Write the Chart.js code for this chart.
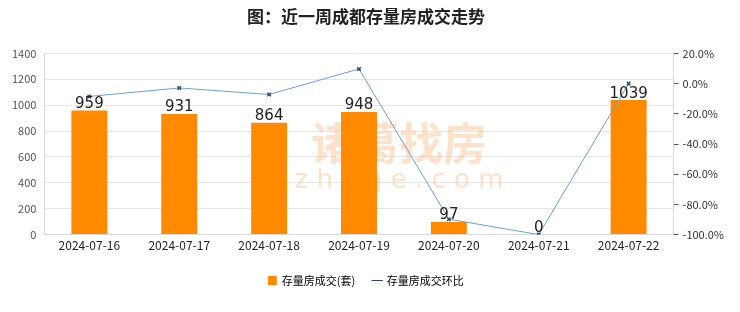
<!DOCTYPE html>
<html>
<head>
<meta charset="utf-8">
<script src="https://cdn.jsdelivr.net/npm/chart.js@4"></script>
<style>
  html, body { margin: 0; padding: 0; background: #fff; }
  #wrap { width: 740px; height: 312px; position: relative; }
</style>
</head>
<body>
<div id="wrap"><canvas id="chart" width="740" height="312"></canvas></div>
<script>
const dates = ['2024-07-16', '2024-07-17', '2024-07-18', '2024-07-19', '2024-07-20', '2024-07-21', '2024-07-22']
const deals = [959, 931, 864, 948, 97, 0, 1039]
const changePct = [-8.5, -2.9, -7.2, 9.7, -89.8, -100, 0]
const leftTicks = [0, 200, 400, 600, 800, 1000, 1200, 1400]
const rightTicks = [-100, -80, -60, -40, -20, 0, 20]

const fontFamily = "'Noto Sans CJK SC', 'DejaVu Sans', sans-serif"

const watermark = {
    id: 'watermark',
    beforeDatasetsDraw(chart) {
        const { ctx, chartArea } = chart
        const cx = (chartArea.left + chartArea.right) / 2 + 40
        ctx.save()
        ctx.fillStyle = 'rgba(250, 190, 140, 0.45)'
        ctx.textAlign = 'center'
        ctx.textBaseline = 'middle'
        ctx.font = "bold 44px 'Noto Sans CJK SC'"
        ctx.fillText('诸葛找房', cx, 143)
        ctx.font = "26px 'DejaVu Sans'"
        ctx.fillText('z h u g e . c o m', cx, 181)
        ctx.restore()
    },
}

// number above each bar
const barLabels = {
    id: 'barLabels',
    afterDatasetsDraw(chart) {
        const { ctx } = chart
        const meta = chart.getDatasetMeta(1)
        ctx.save()
        ctx.fillStyle = '#222'
        ctx.font = "15px 'DejaVu Sans'"
        ctx.textAlign = 'center'
        ctx.textBaseline = 'bottom'
        meta.data.forEach((bar, i) => {
            ctx.fillText(String(deals[i]), bar.x, bar.y + 1)
        })
        ctx.restore()
    },
}

new Chart(document.getElementById('chart'), {
    type: 'bar',
    data: {
        labels: dates,
        datasets: [
            {
                type: 'line',
                label: '存量房成交环比',
                data: changePct,
                yAxisID: 'y1',
                borderColor: '#6f9fd2',
                backgroundColor: '#2d4a6b',
                borderWidth: 1,
                pointStyle: 'crossRot',
                pointRadius: 2.5,
                pointBorderColor: '#2d4a6b',
                pointBorderWidth: 1.5,
                tension: 0,
                order: 1,
            },
            {
                type: 'bar',
                label: '存量房成交(套)',
                data: deals,
                yAxisID: 'y',
                backgroundColor: '#ff8a00',
                barPercentage: 0.4,
                categoryPercentage: 1,
                order: 2,
            },
        ],
    },
    options: {
        responsive: false,
        animation: false,
        layout: { padding: { top: 6, left: 4, right: 12, bottom: 16 } },
        plugins: {
            title: {
                display: true,
                text: '图：近一周成都存量房成交走势',
                color: '#222',
                font: { family: fontFamily, size: 17, weight: 'bold' },
                padding: { top: 0, bottom: 27 },
            },
            legend: {
                position: 'bottom',
                reverse: true,
                labels: {
                    usePointStyle: true,
                    boxWidth: 8,
                    boxHeight: 8,
                    color: '#333',
                    font: { family: fontFamily, size: 11 },
                    padding: 18,
                    generateLabels(chart) {
                        return chart.data.datasets.map((ds, i) => ({
                            text: ds.label,
                            datasetIndex: i,
                            fillStyle: ds.type === 'bar' ? '#ff8a00' : '#2d4a6b',
                            strokeStyle: ds.type === 'bar' ? '#ff8a00' : '#2d4a6b',
                            lineWidth: 1,
                            pointStyle: ds.type === 'bar' ? 'rect' : 'line',
                        }))
                    },
                },
            },
            tooltip: { enabled: false },
        },
        scales: {
            x: {
                grid: { display: false, drawTicks: false },
                border: { color: '#d9d9d9' },
                ticks: { color: '#222', font: { family: fontFamily, size: 12 }, padding: 4 },
            },
            y: {
                position: 'left',
                min: 0,
                max: 1400,
                afterBuildTicks(axis) {
                    axis.ticks = leftTicks.map((v) => ({ value: v }))
                },
                grid: { color: '#e6e6e6', drawTicks: false },
                border: { color: '#d9d9d9' },
                ticks: {
                    color: '#555',
                    font: { family: fontFamily, size: 11 },
                    padding: 8,
                    callback: (v) => String(v),
                },
            },
            y1: {
                position: 'right',
                min: -100,
                max: 20,
                afterBuildTicks(axis) {
                    const t = []
                    for (let v = -100; v <= 20; v += 10) t.push({ value: v })
                    axis.ticks = t
                },
                grid: { drawOnChartArea: false, tickLength: 5, color: '#555' },
                border: { color: '#d9d9d9' },
                ticks: {
                    color: '#333',
                    font: { family: fontFamily, size: 11 },
                    padding: 4,
                    callback: (v) => (rightTicks.includes(v) ? v.toFixed(1) + '%' : ''),
                },
            },
        },
    },
    plugins: [watermark, barLabels],
})
</script>
</body>
</html>
